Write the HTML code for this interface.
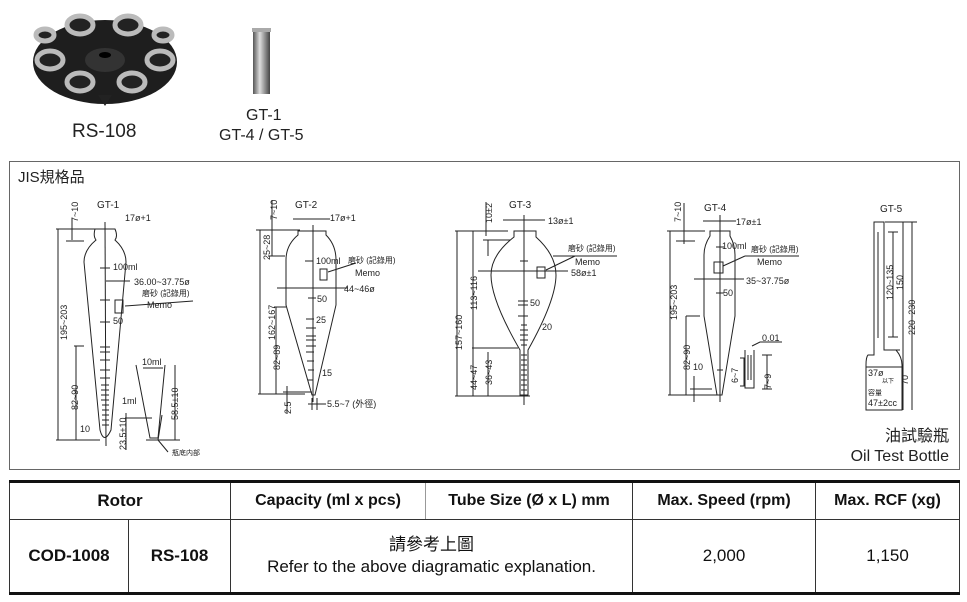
<!DOCTYPE html>
<html><head><meta charset="utf-8"><style>
body{margin:0;width:967px;height:602px;background:#fff;font-family:"Liberation Sans","Noto Sans CJK TC",sans-serif;position:relative;overflow:hidden}
table{position:absolute;left:9px;top:480px;width:951px;border-collapse:collapse;table-layout:fixed;font-family:"Liberation Sans","Noto Sans CJK TC",sans-serif}
td{border:1px solid #333;text-align:center;color:#111;padding:0;white-space:nowrap;overflow:hidden}
</style></head><body>
<svg width="967" height="480" style="position:absolute;left:0;top:0" font-family="Liberation Sans, Noto Sans CJK TC, sans-serif">
<defs><linearGradient id="g" x1="0" x2="1"><stop offset="0" stop-color="#555"/><stop offset=".4" stop-color="#ddd"/><stop offset="1" stop-color="#444"/></linearGradient></defs>
<ellipse cx="105" cy="62" rx="72" ry="42" fill="#1e1e1e"/>
<ellipse cx="105" cy="60" rx="20" ry="12" fill="#333"/>
<ellipse cx="105" cy="55" rx="6" ry="3" fill="#000"/>
<polygon points="98,95 112,95 105,106" fill="#222"/>
<g fill="#222" stroke="#bbb" stroke-width="5">
<ellipse cx="80" cy="25" rx="13" ry="9"/><ellipse cx="128" cy="25" rx="13" ry="9"/>
<ellipse cx="50" cy="60" rx="13" ry="9"/><ellipse cx="160" cy="60" rx="13" ry="9"/>
<ellipse cx="80" cy="82" rx="13" ry="9"/><ellipse cx="132" cy="82" rx="13" ry="9"/>
<ellipse cx="45" cy="35" rx="9" ry="6"/><ellipse cx="163" cy="35" rx="9" ry="6"/>
</g>
<rect x="253" y="28" width="17" height="66" fill="url(#g)"/>
<rect x="252" y="28" width="19" height="4" fill="#aaa"/>
<text x="72" y="137" font-size="19" fill="#222">RS-108</text>
<text x="246" y="120" font-size="16" fill="#222">GT-1</text>
<text x="219" y="140" font-size="16" fill="#222">GT-4 / GT-5</text>
<rect x="9.5" y="161.5" width="950" height="308" fill="none" stroke="#666"/>
<text x="18" y="182" font-size="15" fill="#222">JIS規格品</text>
<g stroke="#222" fill="none" stroke-width="1">
<path d="M95,229 Q93,236 96,240 Q84,250 84,262 L100,430 Q104,445 111,430 L126,262 Q126,250 115,240 Q118,236 115,229 Z"/>
<line x1="105" y1="222" x2="106" y2="446"/><line x1="56" y1="229" x2="100" y2="229"/><line x1="58" y1="229" x2="58" y2="440"/><line x1="56" y1="440" x2="100" y2="440"/>
<line x1="74" y1="346" x2="84" y2="346"/><line x1="76" y1="346" x2="76" y2="440"/>
<line x1="72" y1="218" x2="72" y2="240"/><line x1="66" y1="241" x2="84" y2="241"/>
<line x1="100" y1="268" x2="110" y2="268"/><line x1="106" y1="281" x2="130" y2="281"/>
<line x1="100" y1="300" x2="110" y2="300"/><line x1="100" y1="322" x2="110" y2="322"/>
<rect x="115" y="300" width="8" height="13"/><line x1="125" y1="306" x2="193" y2="301"/>
<path d="M100,347h10M100,352h10M100,360h10M100,370h10M100,378h10M101,385h8M101,390h8M101,395h8M101,400h8M102,405h7M102,410h7M102,415h7M102,420h7M102,425h7"/>
<path d="M136,365 L150,438 L158,438 L165,365 M143,368 L163,368 M125,418 L152,418 M162,415 L158,440 M175,365 L175,440 M146,440 L180,440 M126,413 L126,450 M158,440 L168,452"/>
<path d="M298,231 L298,235 Q286,245 286,260 L286,305 L312,395 L315,395 L336,305 L336,260 Q336,245 326,235 L326,231 Z"/>
<line x1="293" y1="219" x2="330" y2="219"/><line x1="313" y1="225" x2="313" y2="402"/>
<line x1="256" y1="230" x2="300" y2="230"/><line x1="260" y1="230" x2="260" y2="394"/><line x1="258" y1="394" x2="305" y2="394"/>
<line x1="272" y1="200" x2="272" y2="256"/><line x1="268" y1="256" x2="285" y2="256"/>
<line x1="274" y1="307" x2="286" y2="307"/><line x1="276" y1="307" x2="276" y2="394"/>
<line x1="277" y1="288" x2="348" y2="288"/>
<path d="M305,261h8M308,298h8M306,319h8M306,328h10M306,336h10M306,340h10M306,346h10M306,352h8M307,361h7M308,370h6M308,380h5"/>
<rect x="320" y="269" width="7" height="11"/><line x1="328" y1="272" x2="356" y2="263"/>
<line x1="287" y1="386" x2="287" y2="414"/><line x1="283" y1="392" x2="312" y2="392"/>
<line x1="312" y1="398" x2="312" y2="410"/><line x1="317" y1="398" x2="317" y2="410"/><line x1="308" y1="404" x2="326" y2="404"/>
<path d="M514,231 L514,237 Q491,255 491,275 Q491,300 520,350 L520,395 L528,395 L528,350 Q556,300 556,275 Q556,255 536,237 L536,231 Z"/>
<line x1="503" y1="220" x2="545" y2="220"/><line x1="524" y1="215" x2="524" y2="405"/>
<line x1="455" y1="231" x2="508" y2="231"/><line x1="457" y1="231" x2="457" y2="396"/><line x1="455" y1="396" x2="530" y2="396"/>
<line x1="473" y1="231" x2="473" y2="396"/><line x1="472" y1="348" x2="518" y2="348"/><line x1="488" y1="352" x2="488" y2="396"/>
<line x1="486" y1="202" x2="486" y2="236"/><line x1="483" y1="240" x2="510" y2="240"/><line x1="488" y1="240" x2="488" y2="256"/>
<line x1="478" y1="271" x2="568" y2="271"/>
<rect x="537" y="267" width="8" height="11"/><line x1="546" y1="270" x2="575" y2="256"/><line x1="553" y1="256" x2="617" y2="256"/>
<path d="M520,261h8M518,301h10M518,305h10M518,316h10M521,325h6M520,330h8M520,335h8M520,340h8M521,345h6M521,355h6M521,360h6M521,365h6M521,370h6M521,375h6M521,380h6M521,385h6M521,390h6"/>
<path d="M710,231 L710,236 Q704,245 704,255 L704,316 L717,395 L722,395 L735,316 L735,255 Q735,245 730,236 L730,231 Z"/>
<line x1="703" y1="221" x2="736" y2="221"/><line x1="720" y1="215" x2="720" y2="402"/>
<line x1="667" y1="231" x2="705" y2="231"/><line x1="670" y1="231" x2="670" y2="395"/><line x1="668" y1="395" x2="718" y2="395"/>
<line x1="684" y1="203" x2="684" y2="244"/><line x1="676" y1="241" x2="695" y2="241"/>
<line x1="686" y1="316" x2="700" y2="316"/><line x1="686" y1="316" x2="686" y2="395"/>
<line x1="694" y1="376" x2="694" y2="402"/><line x1="690" y1="389" x2="712" y2="389"/>
<line x1="694" y1="279" x2="744" y2="279"/>
<path d="M716,247h8M716,293h8M717,370h6"/>
<rect x="714" y="262" width="9" height="11"/><line x1="723" y1="266" x2="745" y2="256"/><line x1="745" y1="256" x2="799" y2="256"/>
<path d="M745,350 L745,388 L754,388 L754,350 M748,355v25 M751,355v25 M752,346 L760,342 L782,342 M740,358h4v28h-4 M762,355 L772,355 M767,355 L767,389 M762,389 L772,389"/>
<path d="M874,222 L874,355 L868,355 Q866,357 866,365 L866,410 L902,410 L902,365 Q902,357 896,350 L884,350 L884,222 Z"/>
<line x1="866" y1="367" x2="902" y2="367"/>
<line x1="878" y1="232" x2="878" y2="338"/>
<line x1="885" y1="222" x2="917" y2="222"/><line x1="893" y1="232" x2="893" y2="337"/><line x1="888" y1="232" x2="898" y2="232"/><line x1="888" y1="337" x2="898" y2="337"/>
<line x1="903" y1="222" x2="903" y2="410"/><line x1="912" y1="222" x2="912" y2="410"/><line x1="885" y1="350" x2="900" y2="350"/>
</g>
<g font-size="9" fill="#222">
<text x="97" y="208" font-size="10">GT-1</text><text x="125" y="221">17ø+1</text>
<text x="113" y="270">100ml</text><text x="134" y="285">36.00~37.75ø</text>
<text x="142" y="296" font-size="8">磨砂 (記錄用)</text><text x="147" y="308">Memo</text><text x="113" y="324">50</text>
<text x="142" y="365">10ml</text><text x="122" y="404">1ml</text><text x="80" y="432">10</text><text x="172" y="455" font-size="7">瓶底内部</text>
<text x="295" y="208" font-size="10">GT-2</text><text x="330" y="221">17ø+1</text>
<text x="316" y="264">100ml</text><text x="348" y="263" font-size="8">磨砂 (記錄用)</text><text x="355" y="276">Memo</text>
<text x="344" y="292">44~46ø</text><text x="317" y="302">50</text><text x="316" y="323">25</text><text x="322" y="376">15</text>
<text x="327" y="407">5.5~7 (外徑)</text>
<text x="509" y="208" font-size="10">GT-3</text><text x="548" y="224">13ø±1</text>
<text x="568" y="251" font-size="8">磨砂 (記錄用)</text><text x="575" y="265">Memo</text><text x="571" y="276">58ø±1</text>
<text x="530" y="306">50</text><text x="542" y="330">20</text>
<text x="704" y="211" font-size="10">GT-4</text><text x="736" y="225">17ø±1</text>
<text x="722" y="249">100ml</text><text x="751" y="252" font-size="8">磨砂 (記錄用)</text><text x="757" y="265">Memo</text>
<text x="746" y="284">35~37.75ø</text><text x="723" y="296">50</text><text x="762" y="341">0.01</text><text x="693" y="370">10</text>
<text x="880" y="212" font-size="10">GT-5</text>
<text x="868" y="376">37ø</text><text x="882" y="383" font-size="6">以下</text><text x="868" y="395" font-size="7">容量</text><text x="868" y="406">47±2cc</text>
</g>
<g font-size="9" fill="#222">
<text transform="translate(67,340) rotate(-90)">195~203</text>
<text transform="translate(78,410) rotate(-90)">82~90</text>
<text transform="translate(78,222) rotate(-90)">7~10</text>
<text transform="translate(126,450) rotate(-90)">23.5±10</text>
<text transform="translate(178,420) rotate(-90)">58.5±10</text>
<text transform="translate(275,340) rotate(-90)">162~167</text>
<text transform="translate(280,370) rotate(-90)">82~89</text>
<text transform="translate(270,260) rotate(-90)">25~28</text>
<text transform="translate(277,220) rotate(-90)">7~10</text>
<text transform="translate(291,414) rotate(-90)">2.5</text>
<text transform="translate(492,223) rotate(-90)">10±2</text>
<text transform="translate(462,350) rotate(-90)">157~160</text>
<text transform="translate(477,310) rotate(-90)">113~116</text>
<text transform="translate(477,390) rotate(-90)">44~47</text>
<text transform="translate(492,385) rotate(-90)">36~43</text>
<text transform="translate(681,222) rotate(-90)">7~10</text>
<text transform="translate(677,320) rotate(-90)">195~203</text>
<text transform="translate(690,370) rotate(-90)">82~90</text>
<text transform="translate(738,383) rotate(-90)">6~7</text>
<text transform="translate(771,389) rotate(-90)">7~9</text>
<text transform="translate(893,300) rotate(-90)">120~135</text>
<text transform="translate(903,290) rotate(-90)">150</text>
<text transform="translate(915,335) rotate(-90)">220~230</text>
<text transform="translate(908,385) rotate(-90)">70</text>
</g>
<text x="949" y="441" font-size="16" fill="#222" text-anchor="end">油試驗瓶</text>
<text x="949" y="461" font-size="16" fill="#222" text-anchor="end">Oil Test Bottle</text>
</svg>
<table>
<colgroup><col style="width:119px"><col style="width:102px"><col style="width:195px"><col style="width:207px"><col style="width:183px"><col></colgroup>
<tr style="height:38px;font-size:17px;font-weight:bold">
<td colspan="2" style="border-top:3px solid #111">Rotor</td>
<td style="border-top:3px solid #111;border-right-color:#999;font-size:16px">Capacity (ml x pcs)</td>
<td style="border-top:3px solid #111;border-left-color:#999;font-size:16px">Tube Size (Ø x L) mm</td>
<td style="border-top:3px solid #111;font-size:16px">Max. Speed (rpm)</td>
<td style="border-top:3px solid #111;font-size:16px">Max. RCF (xg)</td></tr>
<tr style="height:74px;font-size:17px">
<td style="font-weight:bold;border-bottom:3px solid #111">COD-1008</td>
<td style="font-weight:bold;border-bottom:3px solid #111">RS-108</td>
<td colspan="2" style="border-bottom:3px solid #111;line-height:22px">請參考上圖<br>Refer to the above diagramatic explanation.</td>
<td style="border-bottom:3px solid #111">2,000</td>
<td style="border-bottom:3px solid #111">1,150</td></tr>
</table>
</body></html>
